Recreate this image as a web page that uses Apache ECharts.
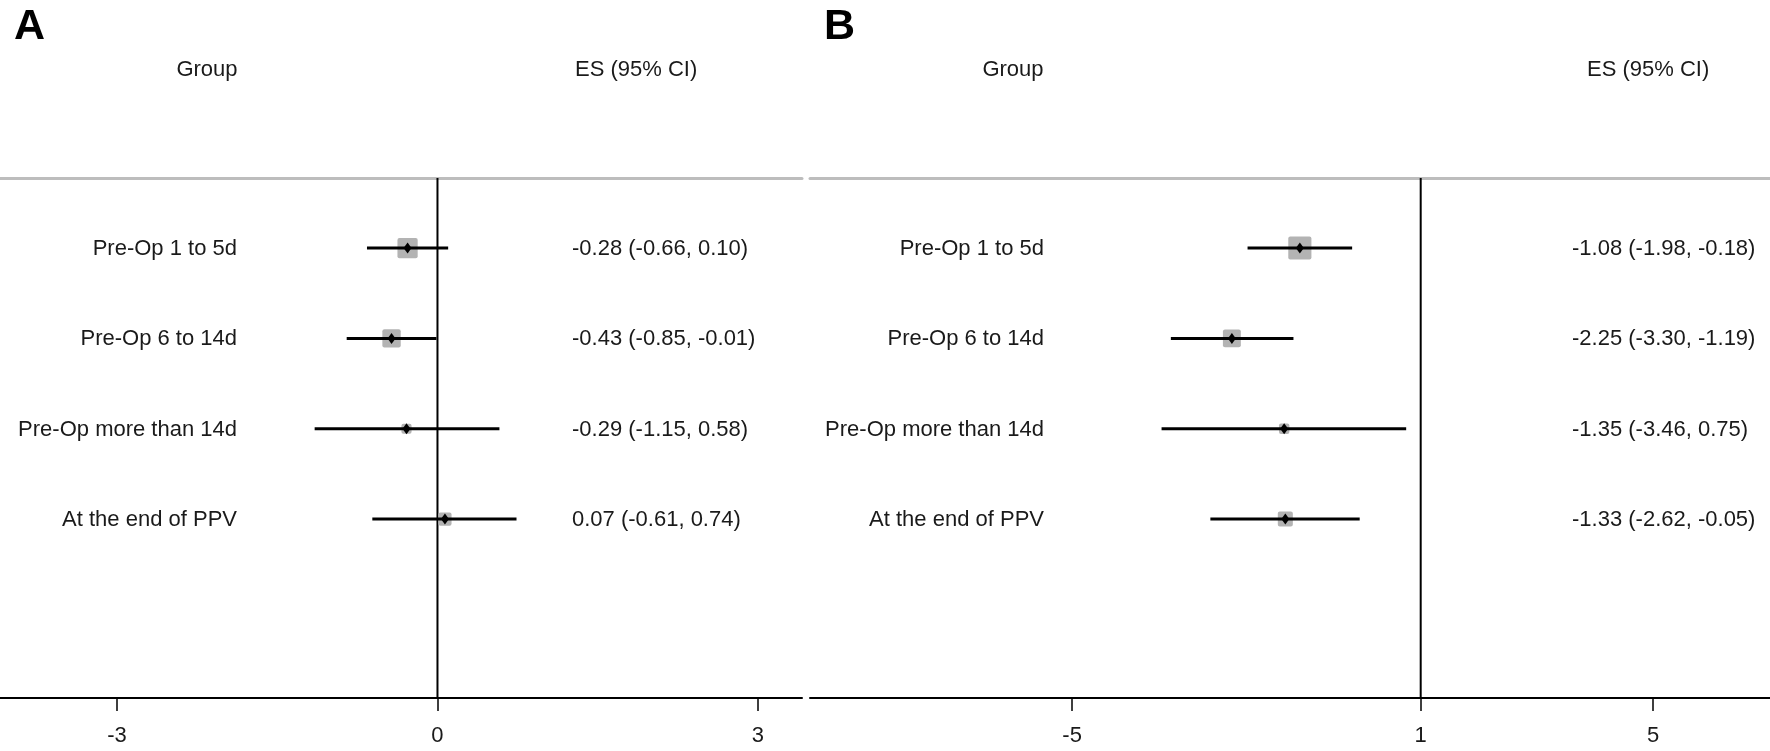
<!DOCTYPE html>
<html>
<head>
<meta charset="utf-8">
<script src="https://cdn.jsdelivr.net/npm/echarts@6/dist/echarts.min.js"></script>
<style>html,body{margin:0;padding:0;background:#fff}#c{width:1770px;height:751px}</style>
</head>
<body>
<div id="c"></div>
<script>
// ---- data ----
const groups = ['Pre-Op 1 to 5d', 'Pre-Op 6 to 14d', 'Pre-Op more than 14d', 'At the end of PPV'];
const esA = [-0.28, -0.43, -0.29, 0.07];
const loA = [-0.66, -0.85, -1.15, -0.61];
const hiA = [0.10, -0.01, 0.58, 0.74];
const weightA = [40, 33, 10, 17];
const esB = [-1.08, -2.25, -1.35, -1.33];
const loB = [-1.98, -3.30, -3.46, -2.62];
const hiB = [-0.18, -1.19, 0.75, -0.05];
const weightB = [45, 27, 9, 19];
const ticksA = [-3, 0, 3];
const ticksB = [-5, 1, 5];
const refA = 0;
const refB = 1;
const headerGroup = 'Group';
const headerES = 'ES (95% CI)';

// ---- layout ----
const FONT = 'Liberation Sans, Arial, sans-serif';
const TXT = '#1a1a1a';
const yMin = -0.775, yMax = 4.98;
const panels = [
  {es: esA, lo: loA, hi: hiA, w: weightA, ticks: ticksA, ref: refA, left: 0, width: 802,
   xmin: -4.096, xmax: 3.413, labelRight: 237, esLeft: 572, sizeK: 3.2, letter: 'A', letterX: 14,
   groupX: 207, esHeadX: 575},
  {es: esB, lo: loB, hi: hiB, w: weightB, ticks: ticksB, ref: refB, left: 810, width: 960,
   xmin: -9.511, xmax: 7.012, labelRight: 1044, esLeft: 1572, sizeK: 3.45, letter: 'B', letterX: 824,
   groupX: 1013, esHeadX: 1587}
];
const fmt = v => v.toFixed(2);

const grid = [], xAxis = [], yAxis = [], series = [], graphic = [];
panels.forEach((p, i) => {
  grid.push({left: p.left, width: p.width, top: 178, height: 520});
  xAxis.push({
    type: 'value', gridIndex: i, min: p.xmin, max: p.xmax, position: 'bottom',
    axisLine: {show: true, onZero: false, lineStyle: {color: '#000', width: 2}},
    axisTick: {show: true, customValues: p.ticks, length: 13, lineStyle: {color: '#000', width: 1.5}},
    axisLabel: {show: true, customValues: p.ticks, fontSize: 22, fontFamily: FONT, color: TXT, margin: 27,
                formatter: v => String(v)},
    splitLine: {show: false}
  });
  xAxis.push({
    type: 'value', gridIndex: i, min: p.xmin, max: p.xmax, position: 'top',
    axisLine: {show: true, onZero: false, lineStyle: {color: '#bdbdbd', width: 3}},
    axisTick: {show: false}, axisLabel: {show: false}, splitLine: {show: false}
  });
  yAxis.push({type: 'value', gridIndex: i, min: yMin, max: yMax, inverse: true, show: false});

  // reference line
  series.push({
    type: 'line', xAxisIndex: 2 * i, yAxisIndex: i, symbol: 'none', silent: true,
    lineStyle: {color: '#000', width: 2}, data: [[p.ref, yMin], [p.ref, yMax]], z: 1
  });

  // forest marks
  const rows = p.es.map((e, k) => [e, p.lo[k], p.hi[k], k, p.w[k]]);
  series.push({
    type: 'custom', xAxisIndex: 2 * i, yAxisIndex: i, data: rows, z: 3,
    renderItem: (params, api) => {
      const r = api.value(3);
      const c = api.coord([api.value(0), r]);
      const a = api.coord([api.value(1), r]);
      const b = api.coord([api.value(2), r]);
      const s = p.sizeK * Math.sqrt(api.value(4));
      return {type: 'group', children: [
        {type: 'rect', shape: {x: c[0] - s / 2, y: c[1] - s / 2, width: s, height: s, r: 2},
         style: {fill: '#b3b3b3'}},
        {type: 'line', shape: {x1: a[0], y1: a[1], x2: b[0], y2: b[1]},
         style: {stroke: '#000', lineWidth: 3}},
        {type: 'polygon', shape: {points: [[c[0], c[1] - 5.5], [c[0] + 4, c[1]], [c[0], c[1] + 5.5], [c[0] - 4, c[1]]]},
         style: {fill: '#000'}}
      ]};
    }
  });

  // row texts
  series.push({
    type: 'custom', xAxisIndex: 2 * i, yAxisIndex: i, data: rows, z: 4,
    renderItem: (params, api) => {
      const k = params.dataIndex;
      const y = api.coord([0, api.value(3)])[1] + 1;
      return {type: 'group', children: [
        {type: 'text', x: p.labelRight, y: y,
         style: {text: groups[k], fill: TXT, font: '22px ' + FONT, textAlign: 'right', textVerticalAlign: 'middle'}},
        {type: 'text', x: p.esLeft, y: y,
         style: {text: fmt(p.es[k]) + ' (' + fmt(p.lo[k]) + ', ' + fmt(p.hi[k]) + ')', fill: TXT,
                 font: '22px ' + FONT, textAlign: 'left', textVerticalAlign: 'middle'}}
      ]};
    }
  });

  graphic.push({type: 'text', left: p.letterX, top: 6,
    style: {text: p.letter, fill: '#000', font: 'bold 43px ' + FONT}});
  graphic.push({type: 'text', x: p.groupX, y: 70,
    style: {text: headerGroup, fill: TXT, font: '22px ' + FONT, textAlign: 'center', textVerticalAlign: 'middle'}});
  graphic.push({type: 'text', x: p.esHeadX, y: 70,
    style: {text: headerES, fill: TXT, font: '22px ' + FONT, textAlign: 'left', textVerticalAlign: 'middle'}});
});

const chart = echarts.init(document.getElementById('c'));
chart.setOption({animation: false, backgroundColor: '#fff', grid, xAxis, yAxis, series, graphic});
</script>
</body>
</html>
